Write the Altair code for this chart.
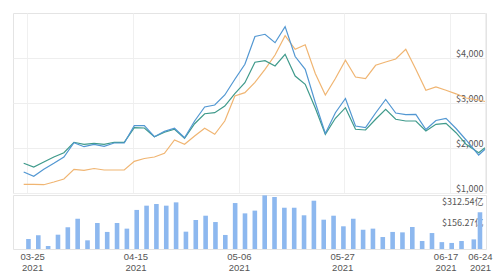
import altair as alt
import pandas as pd

# x positions: one point roughly every two days, last two points closer together
dates = [d.strftime("%Y-%m-%dT%H:%M:%S") for d in pd.date_range("2021-03-24 06:00", periods=45, freq="2D")]
dates += ["2021-06-22T18:00:00", "2021-06-24T00:00:00"]

series_names = ["A", "B", "C"]
series_colors = ["#f0b572", "#3f9a8b", "#5297d2"]

blue = [1467, 1371, 1527, 1660, 1800, 2118, 2029, 2082, 2038, 2111,
        2111, 2496, 2496, 2251, 2371, 2438, 2229, 2600, 2911, 2956,
        3178, 3527, 3860, 4478, 4527, 4340, 4696, 4033, 3749, 3011,
        2322, 2784, 3100, 2489, 2451, 2778, 3078, 2778, 2740, 2749,
        2411, 2611, 2660, 2433, 2178, 1844, 1971]
teal = [1660, 1578, 1689, 1800, 1896, 2127, 2082, 2104, 2082, 2127,
        2127, 2451, 2444, 2251, 2349, 2416, 2216, 2540, 2762, 2784,
        2933, 3207, 3451, 3907, 3942, 3822, 4082, 3600, 3416, 2889,
        2304, 2660, 2896, 2416, 2400, 2638, 2860, 2638, 2600, 2600,
        2378, 2527, 2549, 2340, 2082, 1896, 2007]
orange = [1193, 1193, 1184, 1244, 1311, 1527, 1504, 1544, 1511, 1511,
          1511, 1704, 1767, 1800, 1882, 2178, 2082, 2267, 2438, 2304,
          2600, 3156, 3229, 3460, 3749, 4067, 4496, 4193, 4293, 3656,
          3178, 3544, 3949, 3578, 3540, 3838, 3911, 3978, 4193, 3749,
          3282, 3356, 3284, 3204, 3111, 3067, 3033]
volume = [73, 100, 22, 104, 158, 220, 63, 189, 124, 189,
          148, 284, 315, 327, 315, 339, 126, 211, 242, 196,
          102, 334, 259, 279, 390, 378, 300, 300, 245, 351,
          213, 242, 165, 220, 140, 148, 87, 124, 121, 160,
          58, 116, 50, 44, 58, 70, 267]

price_ticks = [1000, 2000, 3000, 4000]
volume_ticks = [156.27, 312.54]
tick_dates = [(3, 25), (4, 15), (5, 6), (5, 27), (6, 17), (6, 24)]

df_lines = pd.DataFrame({
    "date": dates * 3,
    "series": ["A"] * len(orange) + ["B"] * len(teal) + ["C"] * len(blue),
    "value": orange + teal + blue,
})
df_bars = pd.DataFrame({"date": dates, "vol": volume})

tick_vals = [alt.DateTime(year=2021, month=m, date=d) for m, d in tick_dates]
x_scale = alt.Scale(domain=[alt.DateTime(year=2021, month=3, date=22, hours=3),
                            alt.DateTime(year=2021, month=6, date=24, hours=5)])

FONT = "Noto Sans CJK SC"
XFONT = "Liberation Sans"
LABEL_COLOR = "#555555"

lines = alt.Chart(df_lines).mark_line(strokeWidth=1.2, clip=True).encode(
    x=alt.X("date:T", scale=x_scale,
            axis=alt.Axis(values=tick_vals, labels=False, ticks=False, domain=False,
                          grid=True, gridColor="#f0f0f0", title=None)),
    y=alt.Y("value:Q", scale=alt.Scale(domain=[1000, 5000], nice=False, zero=False),
            axis=alt.Axis(orient="right", values=price_ticks,
                          labelExpr="'$' + format(datum.value, ',')",
                          labelAlign="right", labelPadding=-3, tickSize=0, ticks=False,
                          domain=False, grid=True, gridColor="#eeeeee",
                          labelBaseline="bottom", labelColor=LABEL_COLOR,
                          labelFontSize=9, labelFont=FONT, title=None)),
    color=alt.Color("series:N", scale=alt.Scale(domain=series_names, range=series_colors),
                    legend=None),
).properties(width=473, height=180)

bars = alt.Chart(df_bars).mark_bar(size=4.6, color="#8db8ef", clip=True).encode(
    x=alt.X("date:T", scale=x_scale,
            axis=alt.Axis(values=tick_vals,
                          labelExpr="[timeFormat(datum.value, '%m-%d'), timeFormat(datum.value, '%Y')]",
                          ticks=False, domain=False, grid=False, labelFlush=False,
                          labelOverlap=False, labelColor=LABEL_COLOR, labelFontSize=9.5,
                          labelFont=XFONT, labelPadding=2, labelLineHeight=11, title=None)),
    y=alt.Y("vol:Q", scale=alt.Scale(domain=[0, 392.5], nice=False),
            axis=alt.Axis(orient="right", values=volume_ticks,
                          labelExpr="'$' + format(datum.value, '.2f') + '亿'",
                          labelAlign="right", labelPadding=-3, tickSize=0, ticks=False,
                          domain=False, grid=False, labelBaseline="bottom",
                          labelColor=LABEL_COLOR, labelFontSize=9, labelFont=FONT,
                          title=None)),
).properties(width=473, height=54)

chart = alt.vconcat(lines, bars, spacing=0).properties(
    padding={"left": 12, "top": 12, "right": 2, "bottom": 2},
    background="white",
).configure_view(stroke="#e4e4e4")

chart.save("out.html", embed_options={"renderer": "svg", "actions": False})
